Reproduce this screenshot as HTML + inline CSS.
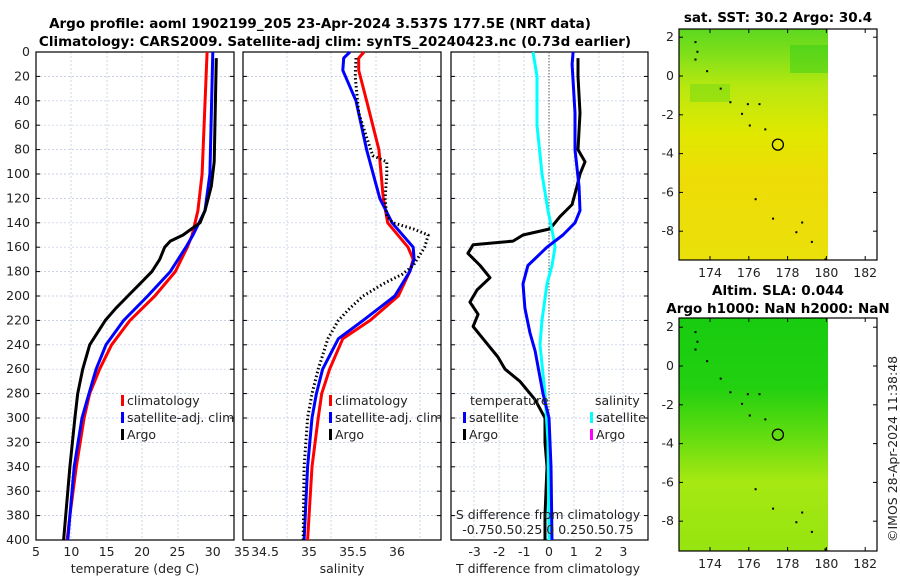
<!DOCTYPE html>
<html><head><meta charset="utf-8"><style>
body{margin:0;background:#fff;width:900px;height:580px;overflow:hidden}
svg{font-family:"DejaVu Sans","Liberation Sans",sans-serif}
.t{font-size:12.5px;fill:#222}
.h{font-size:13.5px;font-weight:bold;fill:#000}
.g{stroke:#b8c4e0;stroke-width:0.7;stroke-dasharray:2,2}
</style></head><body>
<svg id="c" width="900" height="580" xmlns="http://www.w3.org/2000/svg">
<text class="h" x="320" y="28" text-anchor="middle">Argo profile: aoml 1902199_205 23-Apr-2024 3.537S 177.5E (NRT data)</text>
<text class="h" x="335" y="46" text-anchor="middle">Climatology: CARS2009. Satellite-adj clim: synTS_20240423.nc (0.73d earlier)</text>
<text class="h" x="778" y="22" text-anchor="middle">sat. SST: 30.2 Argo: 30.4</text>
<text class="h" x="778" y="295" text-anchor="middle">Altim. SLA: 0.044</text>
<text class="h" x="778" y="313" text-anchor="middle">Argo h1000: NaN h2000: NaN</text>
<text class="t" transform="translate(897,542) rotate(-90)">©IMOS 28-Apr-2024 11:38:48</text>
<defs>
<linearGradient id="sst" x1="0" y1="0" x2="0" y2="1">
<stop offset="0" stop-color="#5cd820"/><stop offset="0.12" stop-color="#84e018"/><stop offset="0.25" stop-color="#b8e810"/><stop offset="0.45" stop-color="#e0e800"/><stop offset="0.65" stop-color="#eedc06"/><stop offset="1" stop-color="#eae00a"/></linearGradient>
<linearGradient id="sla" x1="0" y1="0" x2="0" y2="1">
<stop offset="0" stop-color="#18cc10"/><stop offset="0.3" stop-color="#22d010"/><stop offset="0.5" stop-color="#60dc10"/><stop offset="0.7" stop-color="#a6e812"/><stop offset="1" stop-color="#96e410"/></linearGradient>
</defs>
<g id="plots"></g>
</svg>
<script>
// depth levels (m)
const tDepth=[0,100,130,150,160,180,200,220,240,260,280,300,340,380,400];
const tClim=[29.2,28.5,27.9,27.1,26.4,24.7,21.8,18.3,15.7,14.0,12.6,11.8,10.7,9.8,9.4];
const tSat=[30.0,29.6,28.9,27.2,26.2,24.0,20.8,17.4,14.9,13.5,12.5,11.5,10.4,9.8,9.5];
const argoTDepth=[5,90,110,130,140,145,150,155,160,170,180,190,200,210,220,240,260,280,300,340,380,400];
const argoT=[30.5,30.2,29.8,28.9,28.2,27.0,25.8,24.0,23.2,22.5,21.4,19.7,18.0,16.3,14.8,12.6,11.6,10.9,10.5,9.8,9.2,8.9];
const sDepth=[0,5,15,40,80,120,140,160,170,180,200,220,235,260,280,300,340,400];
const sClim=[35.67,35.61,35.61,35.70,35.84,35.89,35.94,36.17,36.23,36.19,36.06,35.74,35.43,35.28,35.19,35.15,35.08,35.03];
const sSat=[35.51,35.44,35.43,35.58,35.70,35.85,35.99,36.23,36.24,36.19,36.02,35.66,35.38,35.20,35.13,35.08,35.03,34.99];
const argoSDepth=[5,20,50,70,85,90,100,120,135,140,145,150,160,175,182,190,200,210,220,235,260,280,300,340,400];
const argoS=[35.58,35.57,35.61,35.70,35.77,35.93,35.93,35.91,35.93,36.0,36.23,36.40,36.36,36.23,36.11,35.89,35.66,35.51,35.38,35.26,35.15,35.08,35.03,34.99,34.98];
const dTSatDepth=[0,10,50,80,95,110,130,140,150,160,175,190,210,230,245,280,300,340,400];
const dTSat=[0.97,0.93,1.05,1.05,1.13,1.21,1.25,1.05,0.56,-0.08,-0.85,-1.05,-0.97,-0.77,-0.56,-0.24,0,0.08,0.12];
const dTArgoDepth=[5,20,50,80,90,100,110,125,135,145,150,155,158,165,175,185,195,205,215,225,235,250,260,270,285,300,320,340,380,400];
const dTArgo=[1.17,1.17,1.25,1.17,1.45,1.25,1.13,0.93,0.44,0.04,-1.05,-1.45,-3.06,-3.27,-2.78,-2.38,-2.9,-3.19,-2.86,-3.06,-2.66,-2.06,-1.77,-1.17,-0.56,-0.16,-0.16,-0.08,-0.16,-0.16];
const dSSatDepth=[0,20,60,100,130,150,160,175,190,220,240,280,320,400];
const dSSat=[-0.32,-0.24,-0.24,-0.14,-0.02,0.08,0.12,0.06,-0.04,-0.14,-0.18,-0.08,-0.02,0];
const depthTicks=[0,20,40,60,80,100,120,140,160,180,200,220,240,260,280,300,320,340,360,380,400];
const tTicks=[5,10,15,20,25,30,35];
const sTicks=[34.5,35,35.5,36];
const dTTicks=[-3,-2,-1,0,1,2,3];
const lonTicks=[174,176,178,180,182];
const latTicks=[2,0,-2,-4,-6,-8];
const argoLon=177.5, argoLat=-3.537;

const NS='http://www.w3.org/2000/svg';
const root=document.getElementById('plots');
function el(tag,attrs,parent){const e=document.createElementNS(NS,tag);for(const k in attrs)e.setAttribute(k,attrs[k]);(parent||root).appendChild(e);return e;}
const Y0=52,Y1=540;
const yD=d=>Y0+d*(Y1-Y0)/400;
const xT=t=>36+(t-5)*7.07;
const xS=s=>305+(s-35)*88;
const xDT=v=>549+v*24.8;
const xDS=v=>549+v*50;
const xLon=l=>710+(l-174)*19.4;
const yLat1=a=>76-a*19.4;
const yLat2=a=>366-a*19.4;

function panel(x0,x1,name,gridX){
  const g=el('g',{});
  
  
  gridX.forEach(x=>{el('line',{x1:x,x2:x,y1:Y0,y2:Y1,class:'g'},g);});
  depthTicks.forEach(d=>{if(d>0&&d<400){el('line',{x1:x0,x2:x1,y1:yD(d),y2:yD(d),class:'g'},g);}
    el('line',{x1:x0,x2:x0+4,y1:yD(d),y2:yD(d),stroke:'#000'},g);el('line',{x1:x1-4,x2:x1,y1:yD(d),y2:yD(d),stroke:'#000'},g);});
  el('rect',{x:x0,y:Y0,width:x1-x0,height:Y1-Y0,fill:'none',stroke:'#000','stroke-width':1.2},g);
  return g;
}
function line(xs,ds,fx,color,name,dash,w){
  const p=xs.map((v,i)=>(i?'L':'M')+fx(v).toFixed(1)+','+yD(ds[i]).toFixed(1)).join('');
  const e=el('path',{d:p,fill:'none',stroke:color,'stroke-width':w||3,'stroke-linejoin':'round'});
  if(dash)e.setAttribute('stroke-dasharray',dash);
  
  
}
function text(x,y,s,name,anchor,cls){const t=el('text',{x:x,y:y,class:cls||'t','text-anchor':anchor||'start'});t.textContent=s;
  
  
  return t;}

// Panel 1 temperature
panel(36,234,'temperature-panel',[71,107,142,178]);
depthTicks.forEach(d=>text(30,yD(d)+4,String(d),'depth-tick-label','end'));
tTicks.forEach(t=>text(t==35?242:xT(t),556,String(t),'temp-tick-label','middle'));
line(tClim,tDepth,xT,'#f00','temp-climatology-line');
line(tSat,tDepth,xT,'#00f','temp-satellite-line');
line(argoT,argoTDepth,xT,'#000','temp-argo-line');
text(135,573,'temperature (deg C)','temp-x-axis-title','middle');

// Panel 2 salinity
panel(243,441,'salinity-panel',[287,331,376,420]);
sTicks.forEach((s,i)=>text([265,309,353,397][i],556,String(s),'sal-tick-label','middle'));
line(sClim,sDepth,xS,'#f00','sal-climatology-line');
line(sSat,sDepth,xS,'#00f','sal-satellite-line');
line(argoS,argoSDepth,xS,'#000','sal-argo-line','1.5,2.5');
text(342,573,'salinity','sal-x-axis-title','middle');

// Panel 3 differences
panel(451,648,'difference-panel',[474,499,524,574,599,623]);
el('line',{x1:549,x2:549,y1:Y0,y2:Y1,stroke:'#555','stroke-dasharray':'1.5,1.5'});
dTTicks.forEach(v=>text(xDT(v),556,String(v),'dT-tick-label','middle'));
line(dTArgo,dTArgoDepth,xDT,'#000','dT-argo-line');
line(dSSat,dSSatDepth,xDS,'#0ff','dS-satellite-line');
line(dTSat,dTSatDepth,xDT,'#00f','dT-satellite-line');
text(548,573,'T difference from climatology','dT-x-axis-title','middle');
text(548,519,'S difference from climatology','dS-axis-title','middle');
text(548,534,'-0.750.50.25 0 0.250.50.75','dS-tick-labels','middle');

// legends
function leg(x,y,c,s,name){const r=el('rect',{x:x,y:y-10,width:3,height:11,fill:c});
  
  
  text(x+6,y,s,name);}
leg(121,405,'#f00','climatology','legend-climatology');
leg(121,422,'#00f','satellite-adj. clim','legend-satellite');
leg(121,439,'#000','Argo','legend-argo');
leg(329,405,'#f00','climatology','legend2-climatology');
leg(329,422,'#00f','satellite-adj. clim','legend2-satellite');
leg(329,439,'#000','Argo','legend2-argo');
text(470,405,'temperature','legend-temperature-header');
text(595,405,'salinity','legend-salinity-header');
leg(463,422,'#00f','satellite','legend-dT-satellite');
leg(463,439,'#000','Argo','legend-dT-argo');
leg(590,422,'#0ff','satellite','legend-dS-satellite');
leg(590,439,'#f0f','Argo','legend-dS-argo');

// maps
function map(top,bot,yLat,fill,name,extra){
  const g=el('g',{});
  
  
  el('rect',{x:679,y:top,width:828-679,height:bot-top,fill:fill},g);
  if(extra)extra(g);
  el('rect',{x:679,y:top,width:877-679,height:bot-top,fill:'none',stroke:'#000','stroke-width':1.2},g);
  latTicks.forEach(a=>{const y=yLat(a);el('line',{x1:679,x2:683,y1:y,y2:y,stroke:'#000'},g);el('line',{x1:873,x2:877,y1:y,y2:y,stroke:'#000'},g);
    text(674,y+4,String(a),'lat-tick-label','end');});
  lonTicks.forEach(l=>{const x=xLon(l);el('line',{x1:x,x2:x,y1:bot-4,y2:bot,stroke:'#000'},g);el('line',{x1:x,x2:x,y1:top,y2:top+4,stroke:'#000'},g);
    text(x,bot+17,String(l),'lon-tick-label','middle');});
  const isl=[[173.2,1.8],[173.3,1.3],[173.2,0.9],[173.8,0.3],[174.5,-0.6],[175,-1.3],[175.9,-1.4],[176.5,-1.4],[175.6,-1.9],[176,-2.5],[176.8,-2.7],[176.3,-6.3],[177.2,-7.3],[178.7,-7.5],[178.4,-8],[179.2,-8.5],[179.9,-9.4]];
  isl.forEach(p=>el('rect',{x:xLon(p[0]),y:yLat(p[1]),width:2,height:2,fill:'#000'},g));
  const c=el('circle',{cx:xLon(argoLon),cy:yLat(argoLat),r:5.5,fill:'none',stroke:'#000','stroke-width':1.3},g);
  
  
}
map(29,260,yLat1,'url(#sst)','sst-map',g=>{
  el('rect',{x:790,y:45,width:38,height:28,fill:'#30cc18',opacity:0.45},g);
  el('rect',{x:690,y:84,width:40,height:18,fill:'#50d018',opacity:0.35},g);
});
map(318,551,yLat2,'url(#sla)','sla-map');
</script>
</body></html>
